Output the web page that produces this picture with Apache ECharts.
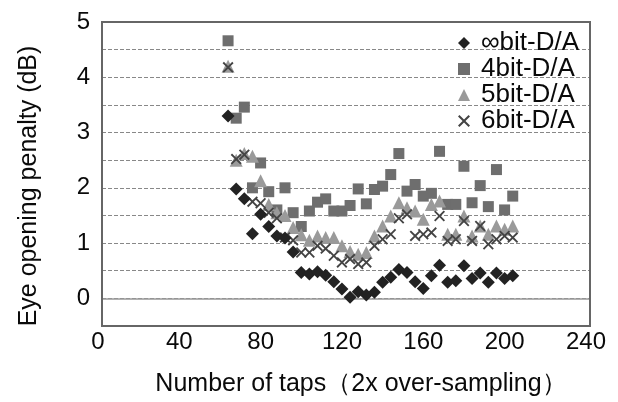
<!DOCTYPE html>
<html><head><meta charset="utf-8">
<script src="https://cdn.jsdelivr.net/npm/echarts@6/dist/echarts.min.js"></script>
<style>html,body{margin:0;padding:0;background:#fff}#c{width:618px;height:402px}</style>
</head><body><div id="c"></div>
<script>
var taps = [62,66,70,74,78,82,86,90,94,98,102,106,110,114,118,122,126,130,134,138,142,146,150,154,158,162,166,170,174,178,182,186,190,194,198,202];
var infBit = [3.30,1.98,1.80,1.17,1.52,1.30,1.13,1.09,0.84,0.47,0.44,0.48,0.42,0.30,0.17,0.02,0.12,0.06,0.11,0.29,0.38,0.52,0.47,0.30,0.18,0.41,0.60,0.29,0.32,0.59,0.36,0.46,0.29,0.46,0.36,0.41];
var bit4 = [4.66,3.26,3.46,2.00,2.45,1.93,1.60,2.00,1.55,1.30,1.58,1.74,1.80,1.58,1.58,1.68,1.98,1.71,1.97,2.03,2.24,2.62,1.94,2.06,1.85,1.90,2.66,1.70,1.70,2.39,1.73,2.04,1.66,2.33,1.60,1.85];
var bit5 = [4.20,2.50,2.62,2.57,2.13,1.70,1.55,1.50,1.28,1.15,1.05,1.13,1.10,1.10,0.95,0.85,0.80,0.83,1.13,1.31,1.49,1.73,1.64,1.58,1.43,1.70,1.76,1.16,1.16,1.49,1.13,1.31,1.16,1.31,1.25,1.31];
var bit6 = [4.18,2.52,2.60,1.75,1.72,1.55,1.45,1.10,1.05,0.83,0.83,0.95,0.90,0.77,0.65,0.71,0.62,0.65,0.95,1.07,1.16,1.45,1.52,1.13,1.16,1.19,1.49,1.04,1.07,1.40,1.04,1.31,0.98,1.07,1.13,1.10];
var names = ['\u221Ebit-D/A','4bit-D/A','5bit-D/A','6bit-D/A'];
var xTicks = [0,40,80,120,160,200,240];
var yTicks = [0,1,2,3,4,5];
var xRange = [0,240];
var yRange = [-0.5,5];

function pairs(v){ return taps.map(function(t,i){ return [t, v[i]]; }); }
var crossPath = 'path://M0,1.2 L1.2,0 L5,3.8 L8.8,0 L10,1.2 L6.2,5 L10,8.8 L8.8,10 L5,6.2 L1.2,10 L0,8.8 L3.8,5 Z';
var FONT = 'Liberation Sans, Arial, sans-serif';
var TXT = '#0a0a0a';
var FRAME = '#666';
function frameLine(){ return {show:true,onZero:false,lineStyle:{color:FRAME,width:2}}; }

var chart = echarts.init(document.getElementById('c'), null, {renderer:'canvas'});
chart.setOption({
  animation:false,
  textStyle:{fontFamily:FONT},
  grid:{left:102,right:28,top:22,bottom:75,show:true,borderColor:FRAME,borderWidth:2},
  legend:{
    orient:'vertical', right:34, top:25, itemGap:0, itemWidth:12, itemHeight:12,
    textStyle:{fontSize:26,lineHeight:25,color:TXT,fontFamily:FONT,padding:[0,0,0,6]},
    data:[
      {name:names[0],icon:'diamond',itemStyle:{color:'#222'}},
      {name:names[1],icon:'rect',itemStyle:{color:'#6e6e6e'}},
      {name:names[2],icon:'triangle',itemStyle:{color:'#9a9a9a'}},
      {name:names[3],icon:crossPath,itemStyle:{color:'#444'}}
    ]
  },
  xAxis:[{
    type:'value', min:xRange[0], max:xRange[1], interval:40,
    axisLine:frameLine(), axisTick:{show:false}, splitLine:{show:false},
    axisLabel:{fontSize:24,color:TXT,margin:4,padding:[0,8,0,0],
      formatter:function(v){ return xTicks.indexOf(v)>=0 ? String(v) : ''; }},
    name:'Number of taps\uFF082x over-sampling\uFF09', nameLocation:'middle', nameGap:46,
    nameTextStyle:{fontSize:25,color:TXT,padding:[0,0,0,30]}
  },{
    type:'value', min:xRange[0], max:xRange[1], position:'top',
    axisLine:frameLine(), axisTick:{show:false}, splitLine:{show:false}, axisLabel:{show:false}
  }],
  yAxis:[{
    type:'value', min:yRange[0], max:yRange[1], interval:0.5,
    axisLine:frameLine(), axisTick:{show:false},
    splitLine:{show:true,lineStyle:{color:'#888',type:'dashed',width:1}},
    axisLabel:{fontSize:24,color:TXT,margin:12,
      formatter:function(v){ return yTicks.indexOf(v)>=0 ? String(v) : ''; }},
    name:'Eye opening penalty (dB)', nameLocation:'middle', nameGap:60,
    nameTextStyle:{fontSize:25,color:TXT,padding:[0,24,0,0]}
  },{
    type:'value', min:yRange[0], max:yRange[1], position:'right',
    axisLine:frameLine(), axisTick:{show:false}, splitLine:{show:false}, axisLabel:{show:false}
  }],
  series:[
    {name:names[1],type:'scatter',symbol:'rect',symbolSize:11,data:pairs(bit4),itemStyle:{color:'#6e6e6e',opacity:1},z:2,
     markLine:{silent:true,symbol:'none',label:{show:false},lineStyle:{color:'#999',type:'solid',width:1.5},data:[{yAxis:0}]}},
    {name:names[2],type:'scatter',symbol:'triangle',symbolSize:13,data:pairs(bit5),itemStyle:{color:'#9a9a9a',opacity:1},z:3},
    {name:names[3],type:'scatter',symbol:crossPath,symbolSize:11,data:pairs(bit6),itemStyle:{color:'#444',opacity:1},z:4},
    {name:names[0],type:'scatter',symbol:'diamond',symbolSize:[13,13],data:pairs(infBit),itemStyle:{color:'#222',opacity:1},z:5}
  ]
});
var pA = chart.convertToPixel({gridIndex:0}, [xRange[0], yRange[0]]);
var pB = chart.convertToPixel({gridIndex:0}, [xRange[1], yRange[1]]);
chart.setOption({graphic:[{
  type:'rect', silent:true, z:20,
  shape:{x:pA[0], y:pB[1], width:pB[0]-pA[0], height:pA[1]-pB[1]},
  style:{fill:'none', stroke:FRAME, lineWidth:2}
}]});
</script></body></html>
